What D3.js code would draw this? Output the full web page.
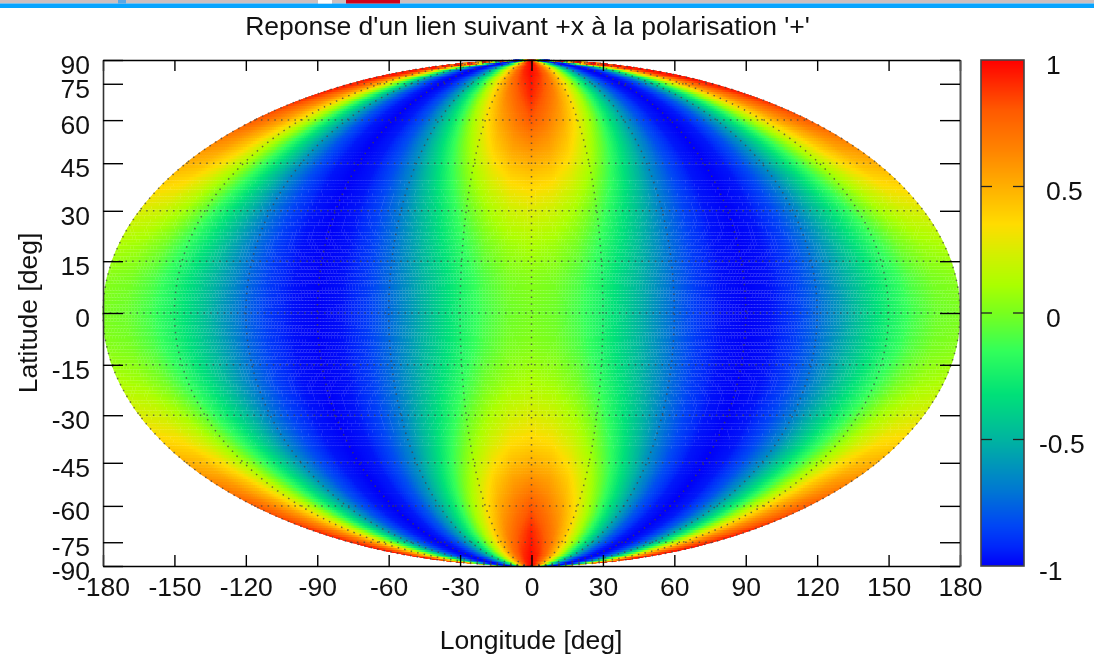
<!DOCTYPE html>
<html><head><meta charset="utf-8">
<script src="https://cdn.jsdelivr.net/npm/d3@7/dist/d3.min.js"></script>
<style>
html,body{margin:0;padding:0;background:#fff;width:1094px;height:657px;overflow:hidden}
canvas,svg{position:absolute;left:0;top:0}
text{font-family:"Liberation Sans",Arial,sans-serif;fill:#111}
</style></head><body>
<canvas id="c" width="1094" height="657"></canvas>
<svg id="s" width="1094" height="657"></svg>
<script>
const titleText = "Reponse d'un lien suivant +x à la polarisation '+'";
const xLabel = "Longitude [deg]";
const yLabel = "Latitude [deg]";
const lonTicks = [-180,-150,-120,-90,-60,-30,0,30,60,90,120,150,180];
const latTicks = [-90,-75,-60,-45,-30,-15,0,15,30,45,60,75,90];
const cbTicks = [-1,-0.5,0,0.5,1];
// values read per quadrant: |lon| 0..90, picture mirrors about lon 0, lon 90 and lat 0
const lonStops = [0,10,20,30,40,50,60,70,80,90];
const latStops = [0,10,20,30,40,50,60,70,80,90];
const lat0  = [0.00,-0.03,-0.12,-0.25,-0.41,-0.59,-0.75,-0.88,-0.97,-1.00];
const lat10 = [0.03,-0.00,-0.09,-0.23,-0.40,-0.57,-0.74,-0.88,-0.97,-1.00];
const lat20 = [0.12, 0.08,-0.01,-0.16,-0.34,-0.54,-0.72,-0.87,-0.97,-1.00];
const lat30 = [0.25, 0.21, 0.10,-0.06,-0.27,-0.48,-0.69,-0.85,-0.96,-1.00];
const lat40 = [0.41, 0.37, 0.25, 0.06,-0.17,-0.42,-0.65,-0.83,-0.96,-1.00];
const lat50 = [0.60, 0.54, 0.40, 0.19,-0.07,-0.34,-0.60,-0.81,-0.95,-1.00];
const lat60 = [0.80, 0.68, 0.53, 0.31, 0.03,-0.28,-0.56,-0.80,-0.95,-1.00];
const lat70 = [0.93, 0.80, 0.64, 0.41, 0.10,-0.22,-0.53,-0.78,-0.94,-1.00];
const lat80 = [0.98, 0.90, 0.74, 0.48, 0.16,-0.19,-0.51,-0.77,-0.94,-1.00];
const lat90 = [1.00, 0.94, 0.77, 0.50, 0.17,-0.17,-0.50,-0.77,-0.94,-1.00];
const rows = [lat0,lat10,lat20,lat30,lat40,lat50,lat60,lat70,lat80,lat90];
const paletteStops = [-1,-0.92,-0.84,-0.7,-0.5,-0.32,-0.15,0,0.11,0.23,0.35,0.5,0.65,0.8,1];
const paletteColors = ["#0000f8","#0028fa","#0046f5","#0078d2","#00b4a0","#00e178","#32ff5a","#78ff1e","#aaff00","#d2f000","#ffdc00","#ffaf00","#ff8200","#ff5a00","#ff0000"];

const L=103,R=960,T=60,B=566;
const FS=26.5;
const x = d3.scaleLinear().domain([-180,180]).range([L,R]);
const ny = d3.scaleLinear().domain([-1,1]).range([B,T]);
const color = d3.scaleLinear().domain(paletteStops).range(paletteColors).clamp(true);

function sinTheta(lat){
  const p=lat*Math.PI/180;
  if(Math.abs(lat)>=90) return Math.sign(lat);
  let t=p;
  for(let i=0;i<40;i++){ t-= (2*t+Math.sin(2*t)-Math.PI*Math.sin(p))/(2+2*Math.cos(2*t)); }
  return Math.sin(t);
}
const px = (lon,st)=> x(lon*Math.sqrt(Math.max(0,1-st*st)));
function value(lon,lat){
  let a=Math.abs(lon); if(a>90) a=180-a;
  const b=Math.abs(lat);
  const i=Math.min(8,Math.floor(a/10)), j=Math.min(8,Math.floor(b/10));
  const u=(a-lonStops[i])/10, v=(b-latStops[j])/10;
  return (1-u)*(1-v)*rows[j][i]+u*(1-v)*rows[j][i+1]+(1-u)*v*rows[j+1][i]+u*v*rows[j+1][i+1];
}

// heat map cells, clipped to the projected outline
const ctx=document.getElementById('c').getContext('2d');
ctx.fillStyle='#fff';ctx.fillRect(0,0,1094,657);
const half=v=>Math.round(v*2)/2;
ctx.save();
ctx.beginPath();
ctx.ellipse(x(0),ny(0),(R-L)/2+0.5,(B-T)/2+0.2,0,0,2*Math.PI);
ctx.clip();
const latGrid=d3.range(-90,90.01,1), lonGrid=d3.range(-180,180.01,1.25);
ctx.globalAlpha=0.3;
for(const lat of latGrid){
  const st=sinTheta(lat);
  for(const lon of lonGrid){
    ctx.fillStyle=color(value(lon,lat));
    ctx.fillRect(px(lon,st)-2.5,ny(st)-2.5,5,5);
  }
}
ctx.globalAlpha=1;
for(const lat of latGrid){
  const st=sinTheta(lat);
  for(const lon of lonGrid){
    ctx.fillStyle=color(value(lon,lat));
    ctx.fillRect(half(px(lon,st)-1.45),half(ny(st)-1.5),3,3);
  }
}
ctx.restore();
// colour bar
const cb = d3.scaleLinear().domain([-1,1]).range([B,T]);
for(const py of d3.range(T,B)){
  ctx.fillStyle=color(cb.invert(py+0.5));
  ctx.fillRect(981,py,43,1);
}

const svg=d3.select('#s');
// window strip above the plot
const strip=svg.append('g');
strip.append('rect').attr('x',0).attr('y',0).attr('width',1094).attr('height',3.5).attr('fill','#cdbfbf');
strip.append('rect').attr('x',0).attr('y',3.5).attr('width',1094).attr('height',4.5).attr('fill','#07a4ff');
strip.append('rect').attr('x',318).attr('y',0).attr('width',14).attr('height',3.5).attr('fill','#fff');
strip.append('rect').attr('x',346).attr('y',0).attr('width',54).attr('height',3.5).attr('fill','#d0021b');
strip.append('rect').attr('x',118).attr('y',0).attr('width',8).attr('height',3.5).attr('fill','#5aa8e6');

// graticule
const grid=svg.append('g').attr('fill','none').attr('stroke','#444').attr('stroke-opacity',0.75)
  .attr('stroke-width',1.5).attr('stroke-dasharray','1.5,5.2');
for(const lat of latTicks.filter(d=>Math.abs(d)<90)){
  const st=sinTheta(lat);
  grid.append('line').attr('x1',px(-180,st)).attr('x2',px(180,st)).attr('y1',ny(st)).attr('y2',ny(st));
}
const mer=d3.line().x(d=>d[0]).y(d=>d[1]);
for(const lon of lonTicks){
  const pts=d3.range(-90,90.01,1).map(lat=>{const st=sinTheta(lat);return [px(lon,st),ny(st)];});
  grid.append('path').attr('d',mer(pts));
}

// axes
function style(g,w){g.selectAll('line').attr('stroke','#000').attr('stroke-width',w);
  g.select('.domain').attr('stroke','#000').attr('stroke-width',1.6);
  g.selectAll('text').attr('font-size',FS).attr('font-family','"Liberation Sans",Arial,sans-serif').attr('fill','#111');}
const yPos=latTicks.map(sinTheta);
const gB=svg.append('g').attr('transform',`translate(0,${B})`)
  .call(d3.axisBottom(x).tickValues(lonTicks).tickSizeInner(-11).tickSizeOuter(0).tickPadding(11).tickFormat(d=>String(d)));
const gT=svg.append('g').attr('transform',`translate(0,${T})`)
  .call(d3.axisTop(x).tickValues(lonTicks).tickSizeInner(-11).tickSizeOuter(0).tickFormat(''));
const gL=svg.append('g').attr('transform',`translate(${L},0)`)
  .call(d3.axisLeft(ny).tickValues(yPos).tickSizeInner(-20).tickSizeOuter(0).tickPadding(13).tickFormat((d,i)=>String(latTicks[i])));
const gR=svg.append('g').attr('transform',`translate(${R},0)`)
  .call(d3.axisRight(ny).tickValues(yPos).tickSizeInner(-20).tickSizeOuter(0).tickFormat(''));
[gB,gT,gL,gR].forEach(g=>style(g,1.4));
gL.selectAll('text').attr('dy',13.3);
gL.select('.domain').attr('stroke','#333');
gR.select('.domain').attr('stroke','#555').attr('stroke-width',2);

// colour bar frame, ticks, labels
const cbg=svg.append('g');
cbg.append('rect').attr('x',981).attr('y',T).attr('width',43).attr('height',B-T)
  .attr('fill','none').attr('stroke','#444').attr('stroke-width',1.6);
cbg.selectAll('line.a').data(cbTicks.filter(d=>Math.abs(d)<1)).join('line')
  .attr('x1',981).attr('x2',992).attr('y1',d=>cb(d)).attr('y2',d=>cb(d)).attr('stroke','#222').attr('stroke-width',1.3);
cbg.selectAll('line.b').data(cbTicks.filter(d=>Math.abs(d)<1),d=>d+'r').enter().append('line')
  .attr('x1',1013).attr('x2',1024).attr('y1',d=>cb(d)).attr('y2',d=>cb(d)).attr('stroke','#222').attr('stroke-width',1.3);
cbg.selectAll('text').data(cbTicks).join('text')
  .attr('x',d=>d<0?1039:1046).attr('y',d=>cb(d)+13.5).attr('font-size',FS).text(d=>String(d));

// titles
svg.append('text').attr('x',527.5).attr('y',35).attr('text-anchor','middle').attr('font-size',FS).text(titleText);
svg.append('text').attr('x',531).attr('y',649).attr('text-anchor','middle').attr('font-size',FS).text(xLabel);
svg.append('text').attr('transform','translate(37,313) rotate(-90)').attr('text-anchor','middle').attr('font-size',FS).text(yLabel);
</script></body></html>
